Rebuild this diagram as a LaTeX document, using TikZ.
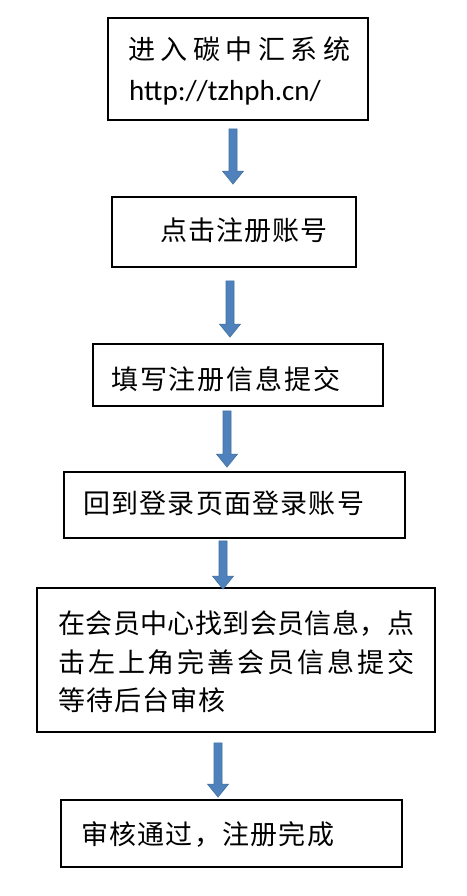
\documentclass[tikz,border=0pt]{standalone}
\usepackage{fontspec}
\newfontfamily\cjk{Noto Sans CJK SC}
\newfontfamily\urlfont{Carlito}
\usetikzlibrary{calc}
\definecolor{arrowfill}{HTML}{4F81BD}
\definecolor{arrowline}{HTML}{41719C}
\def\spreadfirst#1{#1\spreadloop}
\def\spreadloop#1{\ifx#1\relax\else\hfil#1\expandafter\spreadloop\fi}
\newcommand\spreadtext[2]{\makebox[#1][s]{\spreadfirst#2\relax}}
\newcommand\fatarrow[2]{%
  \filldraw[fill=arrowfill,draw=arrowline,line width=0.6pt,line join=miter]
    ($(#1)+(-4,0)$) -- ($(#2)+(-4,-13)$) -- ($(#2)+(-10.5,-13)$) -- (#2)
    -- ($(#2)+(10.5,-13)$) -- ($(#2)+(4,-13)$) -- ($(#1)+(4,0)$) -- cycle;}
\begin{document}
\begin{tikzpicture}[x=1pt,y=-1pt,
  box/.style={draw=black,line width=1.8pt,rectangle,inner sep=0pt,fill=white},
  txt/.style={inner sep=0pt,anchor=west,font=\cjk\fontsize{27}{30}\selectfont}]
\useasboundingbox[fill=white] (0,0) rectangle (466,896);
% boxes
\node[box,minimum width=260pt,minimum height=102pt] (b1) at (238,69) {};
\node[box,minimum width=244pt,minimum height=70pt] (b2) at (234,232) {};
\node[box,minimum width=290pt,minimum height=62pt] (b3) at (238,375) {};
\node[box,minimum width=341pt,minimum height=66pt] (b4) at (234.5,505) {};
\node[box,minimum width=398pt,minimum height=144pt] (b5) at (236,660) {};
\node[box,minimum width=341pt,minimum height=67pt] (b6) at (231.5,833.5) {};
% texts
\node[txt] (t1a) at (128,49) {\spreadtext{222pt}{进入碳中汇系统}};
\node[txt,font=\urlfont\fontsize{29}{31}\selectfont] (t1b) at (129,93) {http://tzhph.cn/};
\node[txt] (t2) at (160,230) {\spreadtext{167pt}{点击注册账号}};
\node[txt] (t3) at (111,379) {\spreadtext{229pt}{填写注册信息提交}};
\node[txt] (t4) at (83,503) {\spreadtext{281pt}{回到登录页面登录账号}};
\node[txt] (t5a) at (58,623) {\spreadtext{356pt}{在会员中心找到会员信息，点}};
\node[txt] (t5b) at (58,662) {\spreadtext{356pt}{击左上角完善会员信息提交}};
\node[txt] (t5c) at (58,700) {\spreadtext{167pt}{等待后台审核}};
\node[txt] (t6) at (81,834) {\spreadtext{253pt}{审核通过，注册完成}};
% arrow columns
\coordinate (x1) at (233,0);
\coordinate (x2) at (230,0);
\coordinate (x3) at (227,0);
\coordinate (x4) at (223,0);
\coordinate (x5) at (218,0);
\coordinate (a1s) at ([yshift=-8pt]b1.south -| x1);
\coordinate (a1e) at ([yshift=12pt]b2.north -| x1);
\coordinate (a2s) at ([yshift=-13pt]b2.south -| x2);
\coordinate (a2e) at ([yshift=6pt]b3.north -| x2);
\coordinate (a3s) at ([yshift=-4pt]b3.south -| x3);
\coordinate (a3e) at ([yshift=4pt]b4.north -| x3);
\coordinate (a4s) at ([yshift=-2pt]b4.south -| x4);
\coordinate (a4e) at ([yshift=-2pt]b5.north -| x4);
\coordinate (a5s) at ([yshift=-10pt]b5.south -| x5);
\coordinate (a5e) at ([yshift=2pt]b6.north -| x5);
\fatarrow{a1s}{a1e}
\fatarrow{a2s}{a2e}
\fatarrow{a3s}{a3e}
\fatarrow{a4s}{a4e}
\fatarrow{a5s}{a5e}
\end{tikzpicture}
\end{document}
